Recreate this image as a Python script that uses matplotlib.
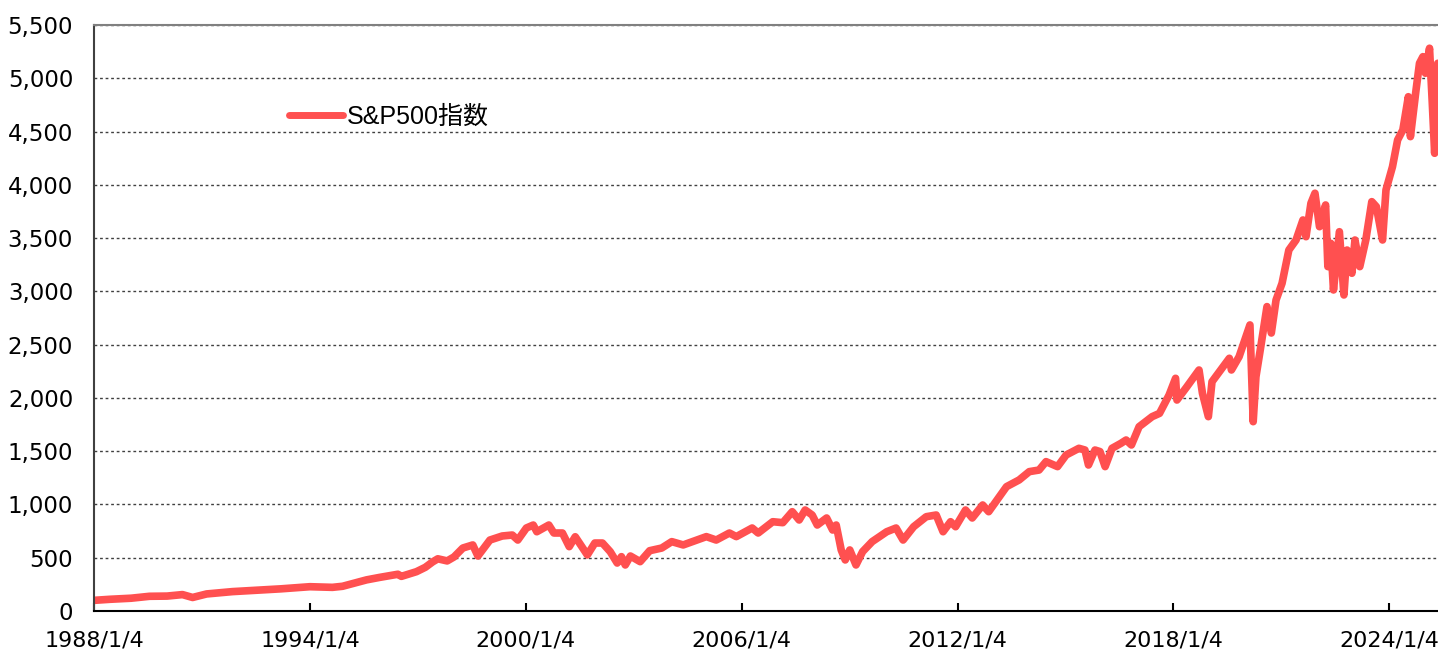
import pandas as pd
import matplotlib
matplotlib.use("Agg")
import matplotlib.pyplot as plt
import matplotlib.ticker as mticker

# values
dates = ["1988-01-04", "1988-06-15", "1989-01-15", "1989-07-20", "1990-01-15",
         "1990-06-20", "1990-10-01", "1991-02-20", "1991-11-10", "1992-07-15",
         "1993-03-15", "1994-01-04", "1994-08-20", "1994-12-01", "1995-04-15",
         "1995-08-01", "1995-12-10", "1996-06-15", "1996-07-20", "1996-12-20",
         "1997-03-20", "1997-06-01", "1997-07-25", "1997-10-28", "1998-01-05",
         "1998-04-05", "1998-07-15", "1998-09-05", "1999-01-05", "1999-05-10",
         "1999-08-20", "1999-10-15", "2000-01-10", "2000-03-20", "2000-04-25",
         "2000-08-25", "2000-10-15", "2001-01-10", "2001-03-20", "2001-05-20",
         "2001-09-20", "2001-12-05", "2002-02-20", "2002-05-10", "2002-07-20",
         "2002-09-01", "2002-10-10", "2002-12-01", "2003-03-10", "2003-06-15",
         "2003-10-15", "2004-01-25", "2004-05-20", "2005-01-10", "2005-04-20",
         "2005-09-01", "2005-11-10", "2006-04-20", "2006-06-20", "2006-11-15",
         "2007-02-25", "2007-06-01", "2007-08-10", "2007-10-10", "2007-12-20",
         "2008-02-10", "2008-05-15", "2008-07-15", "2008-08-20", "2008-10-10",
         "2008-11-20", "2009-01-05", "2009-03-09", "2009-05-15", "2009-08-20",
         "2010-01-15", "2010-04-20", "2010-06-30", "2010-10-15", "2011-02-20",
         "2011-06-01", "2011-08-10", "2011-10-25", "2011-12-15", "2012-03-25",
         "2012-06-01", "2012-09-15", "2012-11-15", "2013-05-15", "2013-09-20",
         "2014-01-01", "2014-04-10", "2014-06-20", "2014-10-15", "2015-01-10",
         "2015-05-20", "2015-07-20", "2015-08-25", "2015-10-30", "2015-12-20",
         "2016-02-10", "2016-04-20", "2016-07-20", "2016-09-10", "2016-11-03",
         "2017-01-20", "2017-06-01", "2017-08-15", "2017-11-20", "2018-01-25",
         "2018-02-08", "2018-05-20", "2018-09-20", "2018-10-25", "2018-12-24",
         "2019-01-30", "2019-07-25", "2019-08-15", "2019-11-01", "2020-02-19",
         "2020-03-23", "2020-04-20", "2020-06-08", "2020-08-10", "2020-09-23",
         "2020-11-10", "2021-01-10", "2021-03-20", "2021-06-01", "2021-08-10",
         "2021-09-10", "2021-10-30", "2021-12-10", "2022-01-25", "2022-03-28",
         "2022-04-20", "2022-05-20", "2022-06-16", "2022-08-15", "2022-09-30",
         "2022-11-01", "2022-12-20", "2023-01-20", "2023-03-10", "2023-05-10",
         "2023-07-10", "2023-08-25", "2023-10-27", "2023-12-01", "2024-02-05",
         "2024-03-28", "2024-05-20", "2024-07-15", "2024-08-05", "2024-10-01",
         "2024-11-05", "2024-12-10", "2025-01-05", "2025-02-15", "2025-03-15",
         "2025-04-08", "2025-05-10"]
sp500 = [100, 110, 120, 138, 140,
         154, 127, 160, 182, 195,
         208, 228, 222, 232, 265,
         292, 315, 345, 325, 369,
         410, 460, 490, 470, 507,
         591, 620, 516, 666, 704,
         713, 666, 779, 807, 744,
         807, 732, 732, 604, 697,
         526, 638, 638, 557, 450,
         510, 432, 516, 463, 566,
         591, 651, 620, 698, 666,
         732, 698, 779, 732, 838,
         829, 932, 854, 948, 901,
         807, 873, 760, 807, 573,
         479, 573, 432, 557, 651,
         744, 779, 666, 791, 885,
         901, 744, 838, 791, 948,
         873, 995, 932, 1167, 1230,
         1308, 1323, 1402, 1355, 1464,
         1527, 1511, 1370, 1511, 1496,
         1355, 1527, 1574, 1605, 1558,
         1730, 1824, 1855, 2027, 2184,
         1980, 2105, 2262, 2043, 1824,
         2152, 2372, 2262, 2387, 2685,
         1777, 2199, 2481, 2857, 2609,
         2919, 3076, 3388, 3482, 3670,
         3513, 3827, 3921, 3607, 3811,
         3232, 3451, 3013, 3560, 2966,
         3388, 3170, 3482, 3232, 3482,
         3842, 3795, 3482, 3952, 4170,
         4421, 4515, 4827, 4452, 4890,
         5141, 5203, 5047, 5282, 4766,
         4296, 5141]
tick_dates = ["1988-01-04", "1994-01-04", "2000-01-04", "2006-01-04",
              "2012-01-04", "2018-01-04", "2024-01-04"]
tick_labels = ["1988/1/4", "1994/1/4", "2000/1/4", "2006/1/4",
               "2012/1/4", "2018/1/4", "2024/1/4"]

x = pd.to_datetime(dates)
red = "#FF5050"

fig = plt.figure(figsize=(14.38, 6.55), dpi=100)
ax = fig.add_axes([94/1438, 1-611/655, 1-94/1438, (611-25)/655])

line, = ax.plot(x, sp500, color=red, lw=5.5, solid_capstyle="round",
                solid_joinstyle="round", label="S&P500指数")

ax.set_xlim(pd.Timestamp("1988-01-04"), pd.Timestamp("2025-05-12"))
ax.set_ylim(0, 5500)
ax.set_yticks(range(0, 5501, 500))
ax.yaxis.set_major_formatter(mticker.FuncFormatter(lambda v, p: f"{int(v):,}"))
ax.set_xticks(pd.to_datetime(tick_dates))
ax.set_xticklabels(tick_labels)

ax.grid(axis="y", color="#404040", linestyle=(0, (2, 2)), linewidth=1)
ax.set_axisbelow(True)
ax.tick_params(axis="y", length=0, pad=15, labelsize=16.5, colors="#000000")
ax.tick_params(axis="x", direction="in", length=6, width=1.5, pad=14,
               labelsize=16, color="#000000")
for s in ["left", "bottom"]:
    ax.spines[s].set_color("#000000")
    ax.spines[s].set_linewidth(1.5)
ax.spines["left"].set_color("#404040")
ax.spines["top"].set_color("#808080")
ax.spines["top"].set_linewidth(1.5)
ax.spines["right"].set_visible(False)

leg = fig.legend(handles=[line], loc="center left",
                 bbox_to_anchor=(289/1438, 1-117/655), frameon=False,
                 borderpad=0, borderaxespad=0, handlelength=2.15,
                 handletextpad=0.16,
                 prop={"family": ["Liberation Sans", "Noto Sans CJK JP"], "size": 18})
leg.get_lines()[0].set_linewidth(5)

fig.savefig("out.png", dpi=100)
